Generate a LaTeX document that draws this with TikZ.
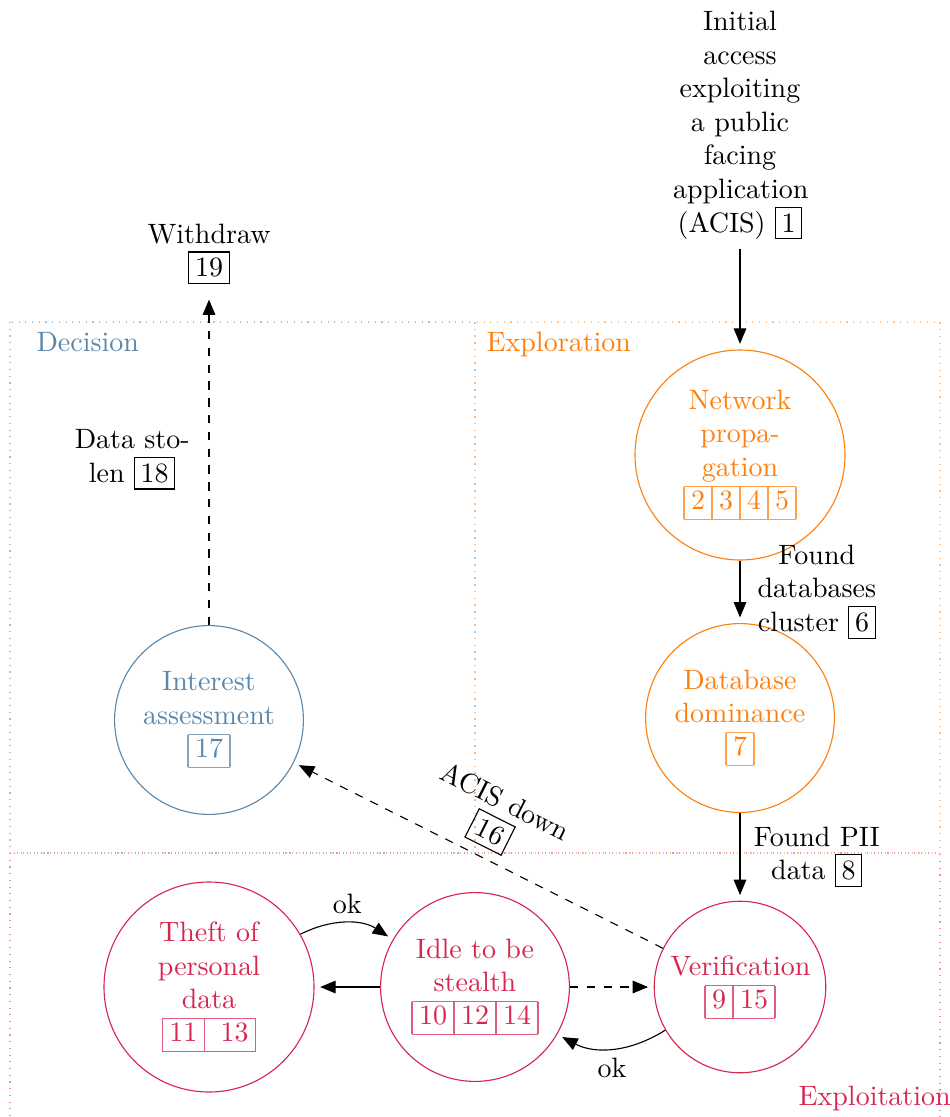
\documentclass[tikz,border=0pt]{standalone}
\usetikzlibrary{arrows.meta}
\definecolor{decc}{RGB}{90,135,170}
\definecolor{expc}{RGB}{255,127,14}
\definecolor{explc}{RGB}{215,38,78}
\setlength\fboxsep{2pt}
\newcommand\nb[1]{\fbox{#1}}
% coloured row of number boxes: lighter rules, full-colour digits
\newcommand\cells[3]{{\color{#1!75}\setlength\tabcolsep{2.5pt}\renewcommand\arraystretch{0.95}\begin{tabular}{#2}\hline #3\\\hline\end{tabular}}}
\tikzset{
  state/.style={circle, draw, text width=1.75cm, align=center, inner sep=2.5pt},
  lbl/.style={text width=1.68cm, align=center},
  arr/.style={-{Triangle[length=5.5pt,width=4.5pt]}, shorten >=2pt},
  region/.style={dotted, line width=0.4pt}
}
\begin{document}
\begin{tikzpicture}[x=0.357143pt,y=-0.357143pt]
\useasboundingbox (0,0) rectangle (949,1117);
% regions
\draw[region, decc!50] (10,322) rectangle (475,853);
\draw[region, expc!50] (475,322) rectangle (940,853);
\draw[region, explc!50] (10,853) rectangle (940,1125);
\node[anchor=base west, inner sep=0, text=decc] (ldec) at (36,352) {Decision};
\node[anchor=base west, inner sep=0, text=expc] (lexp) at (486,352) {Exploration};
\node[anchor=base west, inner sep=0, text=explc] (lexl) at (798,1105) {Exploitation};
% states
\node[state, draw=expc, text=expc] (net) at (740,455) {Network\\propa-\\gation\\\cells{expc}{|c|c|c|c|}{\color{expc}2 & \color{expc}3 & \color{expc}4 & \color{expc}5}};
\node[state, draw=expc, text=expc] (db) at (740,718) {Database\\dominance\\\cells{expc}{|c|}{\color{expc}7}};
\node[state, draw=decc, text=decc] (int) at (209,720) {Interest\\assessment\\\cells{decc}{|c|}{\color{decc}17}};
\node[state, draw=explc, text=explc] (ver) at (740,987) {Verification\\\cells{explc}{|c|c|}{\color{explc}9 & \color{explc}15}};
\node[state, draw=explc, text=explc] (idle) at (475,987) {Idle to be\\stealth\\\cells{explc}{|c|c|c|}{\color{explc}10 & \color{explc}12 & \color{explc}14}};
\node[state, draw=explc, text=explc] (theft) at (209,987) {Theft of\\personal\\data\\\cells{explc}{|c|c|}{\color{explc}11 & \color{explc}\ 13}};
% free labels
\node[lbl, anchor=south] (init) at (740,249) {Initial\\access\\exploiting\\a public\\facing\\application\\(ACIS) \nb{1}};
\node[lbl, anchor=south] (wd) at (209,294) {Withdraw\\\nb{19}};
% connectors
\draw[arr] (init) -- (net);
\draw[arr] (net) -- node[lbl, right] {Found\\databases\\cluster \nb{6}} (db);
\draw[arr] (db) -- node[lbl, right] {Found PII\\data \nb{8}} (ver);
\draw[arr, dashed] (ver) -- node[align=center, sloped, above] {ACIS down\\\nb{16}} (int);
\draw[arr, dashed] (int) -- node[lbl, left] {Data sto-\\len \nb{18}} (wd);
\draw[arr] (theft) to[bend left=30] node[above] {ok} (idle);
\draw[arr] (idle) -- (theft);
\draw[arr, dashed] (idle) -- (ver);
\draw[arr] (ver) to[bend left=30] node[below] {ok} (idle);
\end{tikzpicture}
\end{document}
